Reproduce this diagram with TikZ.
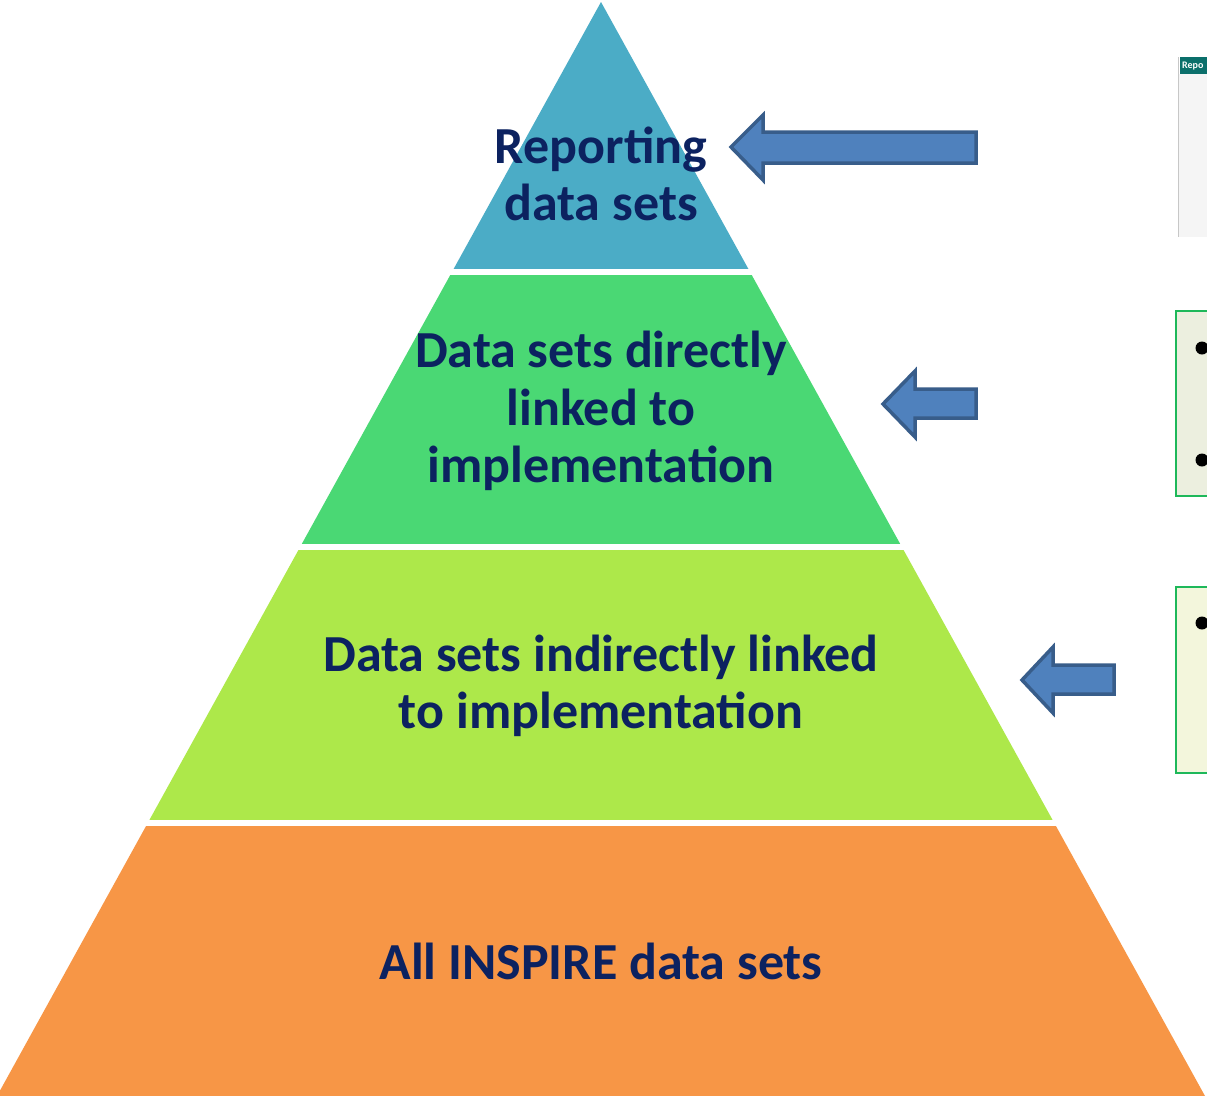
\documentclass[tikz,border=0pt]{standalone}
\usepackage{fontspec}
\setmainfont{Carlito}
\definecolor{lvlblue}{HTML}{4BACC6}
\definecolor{lvlgreen}{HTML}{4AD874}
\definecolor{lvllime}{HTML}{ADE84A}
\definecolor{lvlorange}{HTML}{F79646}
\definecolor{txtnavy}{HTML}{0C2260}
\definecolor{arrfill}{HTML}{4F81BD}
\definecolor{arrline}{HTML}{385D8A}
\definecolor{teal}{HTML}{0B6F6B}
\definecolor{boxgreen}{HTML}{1EB85A}
\begin{document}
\begin{tikzpicture}[x=1pt,y=-1pt,
  lvltext/.style={font=\bfseries\fontsize{52}{57.5}\selectfont, text=txtnavy, align=center, inner sep=0pt},
  leftarrow/.style={fill=arrfill, draw=arrline, line width=3.5pt, line join=miter}]
\useasboundingbox (0,0) rectangle (1207,1096);
\fill[white] (0,0) rectangle (1207,1096);
% pyramid
\begin{scope}
  \clip (601,2) -- (1205,1096) -- (-3,1096) -- cycle;
  \fill[lvlblue]   (0,0) rectangle (1207,269);
  \fill[lvlgreen]  (0,275) rectangle (1207,544);
  \fill[lvllime]   (0,550) rectangle (1207,820);
  \fill[lvlorange] (0,826) rectangle (1207,1096);
\end{scope}
\node[lvltext] (t1) at (601,174) {Reporting\\data sets};
\node[lvltext] (t2) at (601,411) {Data sets directly\\linked to\\implementation};
\node[lvltext] (t3) at (601,686) {Data sets indirectly linked\\to implementation};
\node[lvltext] (t4) at (601,961) {All INSPIRE data sets};
% arrows
\draw[leftarrow] (731,147) -- (763,115) -- (763,132) -- (976,132) -- (976,163) -- (763,163) -- (763,180) -- cycle;
\draw[leftarrow] (883,404) -- (915,371) -- (915,389) -- (976,389) -- (976,418) -- (915,418) -- (915,437) -- cycle;
\draw[leftarrow] (1022,680) -- (1053,647) -- (1053,665) -- (1114,665) -- (1114,694) -- (1053,694) -- (1053,713) -- cycle;
% right boxes (cropped)
\begin{scope}
  \clip (0,0) rectangle (1207,1096);
  \fill[black!4] (1179,74) rectangle (1215,237);
  \draw[black!22, line width=1.2pt] (1178.5,57) -- (1178.5,237);
  \fill[teal] (1180,57) rectangle (1215,74);
  \node[font=\bfseries\fontsize{10}{12}\selectfont, text=white, anchor=west, inner sep=0pt] (rep) at (1182,66) {Repo};
  \filldraw[fill={rgb,255:red,236;green,239;blue,223}, draw=boxgreen, line width=2pt] (1176,311) rectangle (1215,496);
  \fill[black] (1202,348) circle (6.5);
  \fill[black] (1202,460) circle (6.5);
  \filldraw[fill={rgb,255:red,243;green,246;blue,220}, draw=boxgreen, line width=2pt] (1176,587) rectangle (1215,773);
  \fill[black] (1202,623) circle (6.5);
\end{scope}
\end{tikzpicture}
\end{document}
